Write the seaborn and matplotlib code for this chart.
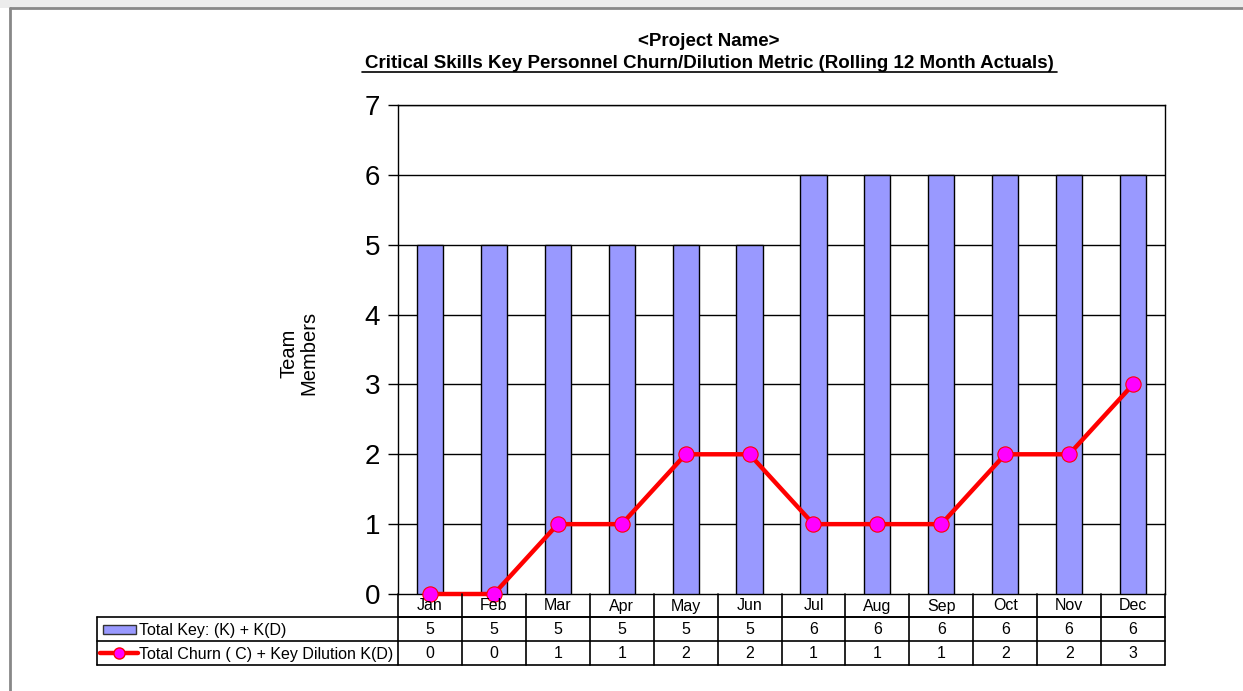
import matplotlib
matplotlib.use("Agg")
import matplotlib.pyplot as plt
import seaborn as sns
import pandas as pd
from matplotlib.lines import Line2D
from matplotlib.patches import Rectangle

months = ['Jan', 'Feb', 'Mar', 'Apr', 'May', 'Jun', 'Jul', 'Aug', 'Sep', 'Oct', 'Nov', 'Dec']
total_key = [5, 5, 5, 5, 5, 5, 6, 6, 6, 6, 6, 6]
total_churn = [0, 0, 1, 1, 2, 2, 1, 1, 1, 2, 2, 3]
key_label = 'Total Key: (K) + K(D)'
churn_label = 'Total Churn ( C) + Key Dilution K(D)'
title_top = '<Project Name>'
title_sub = 'Critical Skills Key Personnel Churn/Dilution Metric (Rolling 12 Month Actuals)'

BAR_COLOR = '#9999ff'
LINE_COLOR = '#ff0000'
MARKER_COLOR = '#ff00ff'

df = pd.DataFrame({'month': months, 'key': total_key, 'churn': total_churn})

sns.set_style('white')
plt.rcParams['font.family'] = ['Liberation Sans', 'DejaVu Sans']
plt.rcParams['text.color'] = 'black'
plt.rcParams['ytick.color'] = 'black'
plt.rcParams['ytick.labelcolor'] = 'black'

W, H = 1243, 691
fig = plt.figure(figsize=(W / 100, H / 100), dpi=100)

# pixel helpers (figure coords)
def fx(px):
    return px / W

def fy(py):
    return 1 - py / H

left, right, top, bottom = 398, 1165, 105, 594
ax = fig.add_axes([fx(left), fy(bottom), fx(right) - fx(left), fy(top) - fy(bottom)])

# spreadsheet frame look
fig.patches.append(Rectangle((0, fy(8)), 1, 1 - fy(8), transform=fig.transFigure,
                             facecolor='#ececec', edgecolor='none', zorder=0))
fig.lines.append(Line2D([fx(10), 1], [fy(8), fy(8)], transform=fig.transFigure,
                        color='#888888', lw=2))
fig.lines.append(Line2D([fx(10), fx(10)], [fy(8), 0], transform=fig.transFigure,
                        color='#888888', lw=2))

sns.barplot(data=df, x='month', y='key', color=BAR_COLOR, width=0.41,
            edgecolor='black', linewidth=1, saturation=1, ax=ax, zorder=3)
sns.lineplot(data=df, x='month', y='churn', color=LINE_COLOR, lw=3.2,
             marker='o', markersize=11, markerfacecolor=MARKER_COLOR,
             markeredgecolor=LINE_COLOR, markeredgewidth=0.8, ax=ax,
             zorder=5, clip_on=False, sort=False)

ax.set_xlim(-0.5, 11.5)
ax.set_ylim(0, 7)
ax.set_yticks(range(0, 8))
for y in range(1, 8):
    ax.axhline(y, color='black', lw=1, zorder=1)
ax.tick_params(axis='y', which='major', direction='out', length=7, width=1,
               left=True, labelsize=20, pad=6, color='black', labelcolor='black')
ax.tick_params(axis='x', bottom=False, labelbottom=False)
ax.set_xlabel('')
ax.set_ylabel('')
for s in ax.spines.values():
    s.set_color('black')
    s.set_linewidth(1)

# y label
fig.text(fx(299), fy(353), 'Team\nMembers', rotation=90, ha='center', va='center',
         fontsize=14.5, linespacing=1.05)

# titles
fig.text(fx(709), fy(41), title_top, ha='center', va='center', fontsize=13.5,
         fontweight='bold')
fig.text(fx(709), fy(63), title_sub, ha='center', va='center', fontsize=13.5,
         fontweight='bold')
fig.lines.append(Line2D([fx(362), fx(1057)], [fy(72), fy(72)], transform=fig.transFigure,
                        color='black', lw=1.2))

# data table under the plot
cw = (right - left) / len(months)
tl = dict(transform=fig.transFigure, color='black', lw=1.2)
# month row
fig.lines.append(Line2D([fx(left), fx(right)], [fy(617), fy(617)], **tl))
for i in range(len(months) + 1):
    x = left + i * cw
    fig.lines.append(Line2D([fx(x), fx(x)], [fy(594), fy(665)], **tl))
# legend rows
for r in [617, 641, 665]:
    fig.lines.append(Line2D([fx(97), fx(right)], [fy(r), fy(r)], **tl))
fig.lines.append(Line2D([fx(97), fx(97)], [fy(617), fy(665)], **tl))

for i, m in enumerate(months):
    cx = left + (i + 0.5) * cw
    fig.text(fx(cx), fy(606), m, ha='center', va='center', fontsize=11.5)
    fig.text(fx(cx), fy(630), str(total_key[i]), ha='center', va='center', fontsize=11.5)
    fig.text(fx(cx), fy(654), str(total_churn[i]), ha='center', va='center', fontsize=11.5)

# legend keys in table
fig.patches.append(Rectangle((fx(103), fy(634)), fx(136) - fx(103), fy(625) - fy(634),
                             transform=fig.transFigure, facecolor=BAR_COLOR,
                             edgecolor='#333333', lw=1))
fig.lines.append(Line2D([fx(100), fx(138)], [fy(653), fy(653)], transform=fig.transFigure,
                        color=LINE_COLOR, lw=3.2))
fig.lines.append(Line2D([fx(119)], [fy(653)], transform=fig.transFigure, marker='o',
                        markersize=8, markerfacecolor=MARKER_COLOR,
                        markeredgecolor=LINE_COLOR, color=LINE_COLOR))
fig.text(fx(139), fy(630), key_label, ha='left', va='center', fontsize=11.5)
fig.text(fx(139), fy(654), churn_label, ha='left', va='center', fontsize=11.5)

fig.savefig('out.png', dpi=100)
